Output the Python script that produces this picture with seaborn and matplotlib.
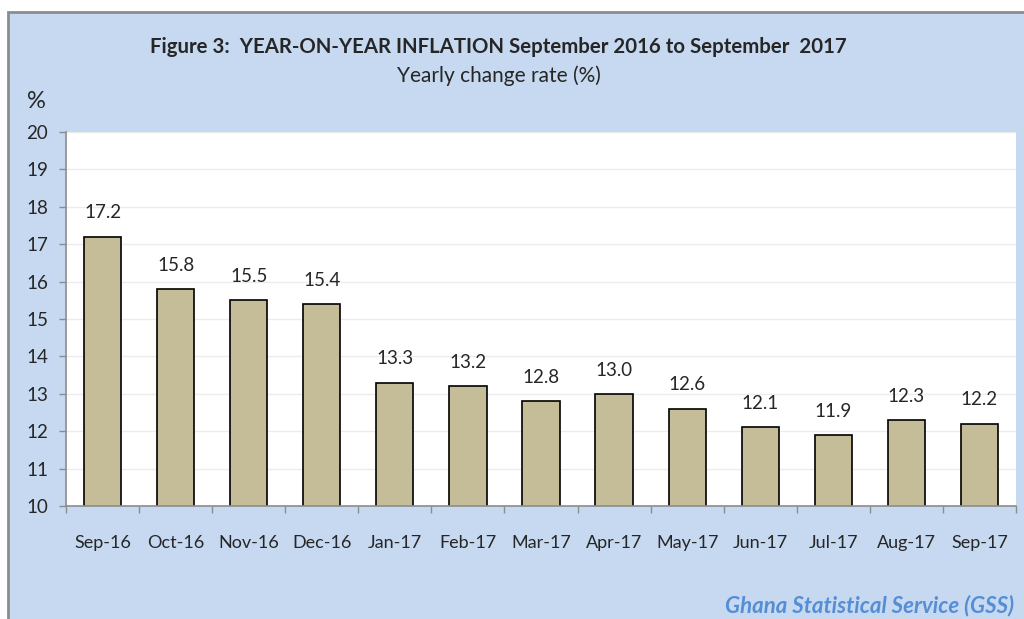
import matplotlib
matplotlib.use("Agg")
import matplotlib.pyplot as plt
import seaborn as sns
import pandas as pd
from matplotlib.patches import Rectangle

months = ["Sep-16", "Oct-16", "Nov-16", "Dec-16", "Jan-17", "Feb-17", "Mar-17",
          "Apr-17", "May-17", "Jun-17", "Jul-17", "Aug-17", "Sep-17"]
inflation = [17.2, 15.8, 15.5, 15.4, 13.3, 13.2, 12.8, 13.0, 12.6, 12.1, 11.9, 12.3, 12.2]
y_ticks = list(range(10, 21))

BG = "#c6d9f0"
BAR = "#c4bd97"


def main():
    sns.set_style("white")
    plt.rcParams["font.family"] = ["Lato", "DejaVu Sans"]

    df = pd.DataFrame({"month": months, "rate": inflation})

    fig = plt.figure(figsize=(10.24, 6.19), dpi=100)
    fig.patch.set_facecolor("white")

    # blue panel with grey frame
    fig.patches.append(Rectangle((8 / 1024, -0.05), 1.0, 1.05 - 12 / 619, transform=fig.transFigure,
                                 facecolor=BG, edgecolor="#8c8c8c", linewidth=2, zorder=-10))

    ax = fig.add_axes([66 / 1024, 1 - 506 / 619, (1016 - 66) / 1024, (506 - 132) / 619])
    ax.set_facecolor("white")

    sns.barplot(data=df, x="month", y="rate", color=BAR, edgecolor="black",
                linewidth=1.2, width=0.51, saturation=1, ax=ax)

    for c in ax.containers:
        ax.bar_label(c, labels=[f"{v:.1f}" for v in inflation], padding=11, fontsize=13.5)

    ax.set_ylim(10, 20)
    ax.set_xlim(-0.5, len(months) - 0.5)
    ax.set_yticks(y_ticks)
    ax.yaxis.grid(True, color="#ececec", linewidth=1)
    ax.set_axisbelow(True)
    ax.set_xlabel("")
    ax.set_ylabel("")

    # ticks between categories on x
    ax.set_xticks([i - 0.5 for i in range(len(months) + 1)], minor=True)
    ax.tick_params(axis="x", which="minor", length=5, color="#8c8c8c", width=1, direction="out")
    ax.tick_params(axis="x", which="major", length=0, pad=21, labelsize=13)
    ax.tick_params(axis="y", length=5, color="#8c8c8c", width=1, direction="out",
                   labelsize=13.5, pad=8)
    ax.tick_params(axis="both", which="both", bottom=True, left=True)

    for side in ["top", "right"]:
        ax.spines[side].set_visible(False)
    for side in ["left", "bottom"]:
        ax.spines[side].set_color("#8c8c8c")
        ax.spines[side].set_linewidth(1.2)

    fig.text(0.487, 1 - 47 / 619, "Figure 3:  YEAR-ON-YEAR INFLATION September 2016 to September  2017",
             ha="center", va="center", fontsize=14.7, fontweight="bold")
    fig.text(0.487, 1 - 76 / 619, "Yearly change rate (%)", ha="center", va="center", fontsize=15)
    fig.text(36 / 1024, 1 - 102 / 619, "%", ha="center", va="center", fontsize=17)
    fig.text(1014 / 1024, 1 - 606 / 619, "Ghana Statistical Service (GSS)", ha="right", va="center",
             fontsize=16, fontweight="bold", fontstyle="italic", color="#558ed5")

    fig.savefig("out.png", dpi=100, facecolor=fig.get_facecolor())


if __name__ == "__main__":
    main()
